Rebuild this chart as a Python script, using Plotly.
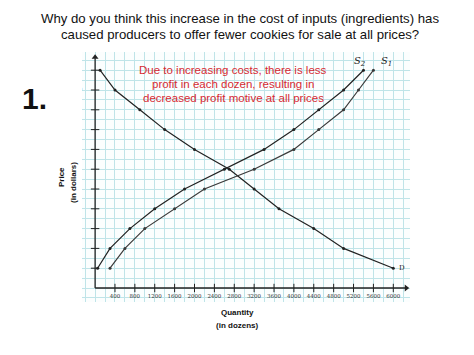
import plotly.graph_objects as go

# ---- data ----
prices = [1, 2, 3, 4, 5, 6, 7, 8, 9, 10, 11]
demand_qty = [6000, 5000, 4400, 3700, 3200, 2700, 2000, 1400, 900, 400, 100]
supply1_qty = [300, 600, 1000, 1600, 2200, 3200, 4000, 4500, 5000, 5300, 5600]
supply2_qty = [50, 300, 700, 1200, 1800, 2600, 3400, 4000, 4500, 5000, 5400]
x_ticks = [400, 800, 1200, 1600, 2000, 2400, 2800, 3200, 3600, 4000, 4400, 4800, 5200, 5600, 6000]
y_ticks = [1, 2, 3, 4, 5, 6, 7, 8, 9, 10, 11]

W, H = 474, 355
L, R, T, B = 82, 410, 52, 302  # plot area pixels


def px(xpix):
    return (xpix - L) / (R - L)


def py(ypix):
    return (B - ypix) / (B - T)


fig = go.Figure()

line_style = dict(width=1.2)
fig.add_trace(go.Scatter(x=demand_qty, y=prices, mode="lines+markers",
                         line=dict(color="#222222", **line_style),
                         marker=dict(size=3, color="#222222"), showlegend=False))
fig.add_trace(go.Scatter(x=supply2_qty, y=prices, mode="lines+markers",
                         line=dict(color="#222222", **line_style),
                         marker=dict(size=3, color="#222222"), showlegend=False))
fig.add_trace(go.Scatter(x=supply1_qty, y=prices, mode="lines+markers",
                         line=dict(color="#3a3a3a", **line_style),
                         marker=dict(size=3, color="#3a3a3a"), showlegend=False))

# tick marks
fig.add_trace(go.Scatter(x=x_ticks, y=[0] * len(x_ticks), mode="markers",
                         marker=dict(symbol="line-ns", size=6, line=dict(width=1, color="#222")),
                         showlegend=False))
fig.add_trace(go.Scatter(x=[0] * len(y_ticks), y=y_ticks, mode="markers",
                         marker=dict(symbol="line-ew", size=6, line=dict(width=1, color="#222")),
                         showlegend=False))
# tick labels
tick_font = dict(size=5.5, color="#333", family="DejaVu Serif")
fig.add_trace(go.Scatter(x=x_ticks, y=[-0.45] * len(x_ticks), mode="text",
                         text=[str(v) for v in x_ticks], textfont=tick_font, showlegend=False))
fig.add_trace(go.Scatter(x=[-330] * len(y_ticks), y=y_ticks, mode="text",
                         text=[str(v) for v in y_ticks], textfont=tick_font, showlegend=False))
fig.add_trace(go.Scatter(x=[-380], y=[-0.45], mode="text", text=["0"],
                         textfont=tick_font, showlegend=False))

# axis lines with arrowheads
fig.add_shape(type="line", x0=0, y0=0, x1=6250, y1=0, line=dict(color="#222", width=1.3))
fig.add_shape(type="line", x0=0, y0=0, x1=0, y1=11.6, line=dict(color="#222", width=1.3))
fig.add_trace(go.Scatter(x=[6260], y=[0], mode="markers",
                         marker=dict(symbol="triangle-right", size=6, color="#222"), showlegend=False))
fig.add_trace(go.Scatter(x=[0], y=[11.65], mode="markers",
                         marker=dict(symbol="triangle-up", size=6, color="#222"), showlegend=False))

# curve labels
hand = dict(family="DejaVu Serif", color="#222")
fig.add_annotation(x=supply2_qty[-1] - 80, y=11.45, text="<i>S<sub>2</sub></i>", showarrow=False,
                   xanchor="center", yanchor="middle", font=dict(size=10, **hand))
fig.add_annotation(x=supply1_qty[-1] + 260, y=11.45, text="<i>S<sub>1</sub></i>", showarrow=False,
                   xanchor="center", yanchor="middle", font=dict(size=10, **hand))
fig.add_annotation(x=demand_qty[0] + 170, y=1.02, text="D", showarrow=False,
                   xanchor="center", yanchor="middle", font=dict(size=7, **hand))

# red explanation
red_lines = ["Due to increasing costs, there is less",
             "profit in each dozen, resulting in",
             "decreased profit motive at all prices"]
for i, t in enumerate(red_lines):
    fig.add_annotation(xref="paper", yref="paper", x=px(233), y=py(70 + 14 * i), text=t,
                       xanchor="center", yanchor="middle",
                       showarrow=False, font=dict(size=11.5, color="#d62a32", family="Liberation Sans"))

# title
title_font = dict(size=13.2, color="#111", family="Liberation Sans")
fig.add_annotation(xref="paper", yref="paper", x=px(240), y=py(18),
                   text="Why do you think this increase in the cost of inputs (ingredients) has",
                   xanchor="center", yanchor="middle", showarrow=False, font=title_font)
fig.add_annotation(xref="paper", yref="paper", x=px(240), y=py(35),
                   text="caused producers to offer fewer cookies for sale at all prices?",
                   xanchor="center", yanchor="middle", showarrow=False, font=title_font)
fig.add_annotation(xref="paper", yref="paper", x=px(34), y=py(98), text="<b>1.</b>",
                   xanchor="center", yanchor="middle",
                   showarrow=False, font=dict(size=30, color="#111", family="Liberation Sans"))

# axis titles
lab_font = dict(size=8, color="#111", family="Liberation Sans")
fig.add_annotation(xref="paper", yref="paper", x=px(61), y=py(177), text="<b>Price</b>",
                   xanchor="center", yanchor="middle", textangle=-90, showarrow=False, font=lab_font)
fig.add_annotation(xref="paper", yref="paper", x=px(73), y=py(183), text="<b>(in dollars)</b>",
                   xanchor="center", yanchor="middle", textangle=-90, showarrow=False, font=lab_font)
fig.add_annotation(xref="paper", yref="paper", x=px(237), y=py(312), text="<b>Quantity</b>",
                   xanchor="center", yanchor="middle", showarrow=False, font=lab_font)
fig.add_annotation(xref="paper", yref="paper", x=px(237), y=py(325), text="<b>(in dozens)</b>",
                   xanchor="center", yanchor="middle", showarrow=False, font=lab_font)

x_per_px = 400 / 19.88
y_per_px = 1 / 19.8
x0 = 95.1
y0 = 288
fig.update_layout(
    width=W, height=H,
    margin=dict(l=L, r=W - R, t=T, b=H - B),
    paper_bgcolor="white", plot_bgcolor="#fbfefe",
    xaxis=dict(range=[(L - x0) * x_per_px, (R - x0) * x_per_px], showgrid=True,
               gridcolor="#bfe4e8", gridwidth=1, dtick=200, tick0=0,
               showticklabels=False, zeroline=False, ticks="", fixedrange=True),
    yaxis=dict(range=[(y0 - B) * y_per_px, (y0 - T) * y_per_px], showgrid=True,
               gridcolor="#bfe4e8", gridwidth=1, dtick=0.5, tick0=0,
               showticklabels=False, zeroline=False, ticks="", fixedrange=True),
)

fig.write_html("out.html", config={"displayModeBar": False},
               post_script="document.body.style.margin='0';document.body.style.overflow='hidden';")
